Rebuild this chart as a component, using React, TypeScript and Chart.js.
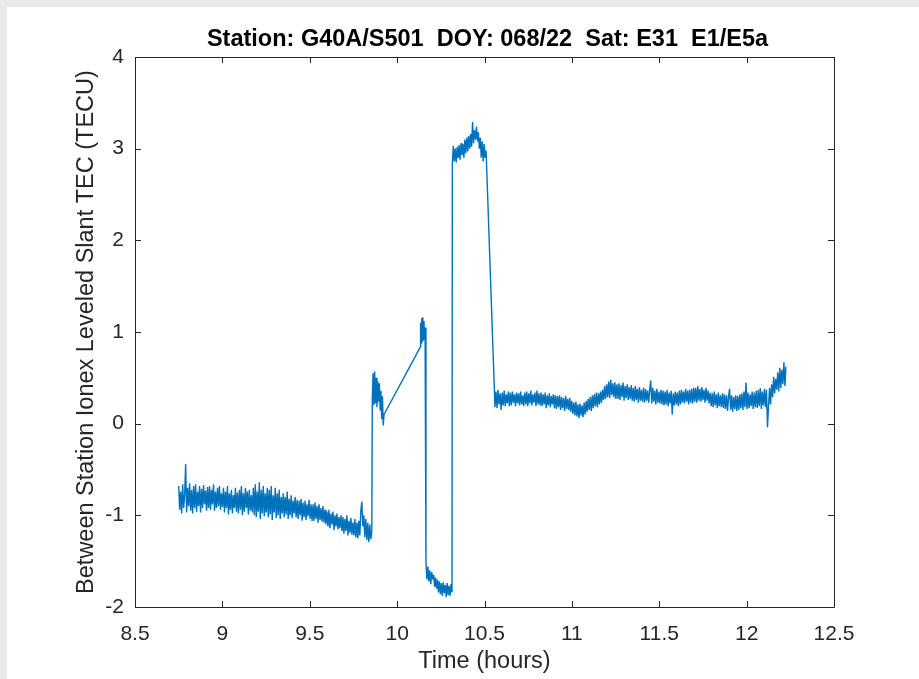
import React, { useEffect, useRef } from "react";
import { Chart, registerables } from "chart.js";

Chart.register(...registerables);

const TITLE = "Station: G40A/S501  DOY: 068/22  Sat: E31  E1/E5a";
const X_LABEL = "Time (hours)";
const Y_LABEL = "Between Station Ionex Leveled Slant TEC (TECU)";
const X_MIN = 8.5, X_MAX = 12.5, X_STEP = 0.5;
const Y_MIN = -2, Y_MAX = 4, Y_STEP = 1;

// Each segment: [startTime, endTime]; its values are evenly spaced in between
const segA_time = [8.75, 9.855];
const segA = [
  -0.68,-0.94,-0.74,-0.98,-0.66,-0.92,-0.78,-0.44,-0.97,-0.7,-0.9,-0.65,-0.95,-0.72,-0.98,
  -0.68,-0.92,-0.66,-0.96,-0.74,-0.9,-0.68,-0.97,-0.71,-0.92,-0.67,-0.88,-0.73,-0.95,-0.69,
  -0.92,-0.68,-0.94,-0.72,-0.88,-0.66,-0.95,-0.74,-0.92,-0.7,-0.9,-0.68,-0.94,-0.76,-0.91,
  -0.7,-0.97,-0.74,-0.92,-0.68,-0.99,-0.76,-0.94,-0.72,-0.98,-0.78,-0.92,-0.7,-0.96,-0.75,
  -0.98,-0.72,-0.94,-0.68,-1.0,-0.76,-0.96,-0.7,-0.92,-0.74,-0.99,-0.72,-0.95,-0.78,-0.97,
  -0.7,-1.0,-0.66,-1.02,-0.74,-0.96,-0.64,-1.04,-0.72,-0.98,-0.68,-1.01,-0.76,-0.97,-0.7,
  -1.02,-0.72,-0.99,-0.68,-1.05,-0.78,-0.97,-0.7,-1.03,-0.76,-1.0,-0.72,-1.04,-0.8,-0.98,
  -0.76,-1.02,-0.8,-0.99,-0.74,-1.04,-0.82,-1.0,-0.78,-1.03,-0.84,-0.98,-0.8,-1.02,-0.83,
  -1.04,-0.84,-1.0,-0.82,-1.06,-0.86,-1.02,-0.84,-1.05,-0.88,-1.01,-0.83,-1.04,-0.88,-1.06,
  -0.88,-1.06,-0.86,-1.04,-0.9,-1.08,-0.88,-1.05,-0.92,-1.07,-0.9,-1.08,-0.94,-1.1,-0.96,
  -1.12,-0.94,-1.14,-0.98,-1.1,-0.96,-1.16,-1.0,-1.12,-0.98,-1.15,-1.02,-1.14,-1.0,-1.17,
  -1.02,-1.2,-1.04,-1.17,-1.0,-1.22,-1.06,-1.19,-1.03,-1.21,-1.08,-1.22,-1.04,-1.24,-1.08,
  -1.25,-1.06,-1.22,-0.95,-0.85,-1.12,-1.0,-1.24,-1.04,-1.27,-1.08,-1.29,-1.1,-1.26,-1.18,
];
const segB_time = [9.858, 9.925];
const segB = [0.28,0.55,0.2,0.57,0.22,0.5,0.18,0.46,0.24,0.44,0.15,0.36,0.05,0.3,-0.02,0.1];
const segC_time = [10.131, 10.16];
const segC = [0.83,1.1,0.88,1.15,0.9,1.16,0.92,1.12,0.95,1.05];
const segD_time = [10.165, 10.314];
const segD = [
  -1.52,-1.7,-1.56,-1.72,-1.6,-1.75,-1.62,-1.7,-1.65,-1.78,-1.68,-1.8,-1.7,-1.84,
  -1.72,-1.86,-1.74,-1.88,-1.73,-1.85,-1.76,-1.89,-1.74,-1.87,-1.77,-1.88,-1.75,-1.84,
];
const segE_time = [10.316, 10.509];
const segE = [
  2.84,3.03,2.86,3.0,2.85,3.02,2.9,3.04,2.88,3.06,2.93,3.05,2.9,3.1,2.95,3.12,2.97,3.14,
  3.0,3.16,3.02,3.29,3.06,3.2,3.1,3.24,3.08,3.18,3.0,3.12,2.9,3.08,2.86,3.05,2.9,2.98,
];
const segF_time = [10.56, 12.225];
const segF = [
  0.18,0.35,0.17,0.37,0.21,0.33,0.15,0.34,0.2,0.36,0.19,0.32,0.22,0.35,0.19,
  0.34,0.2,0.35,0.23,0.32,0.19,0.34,0.22,0.33,0.2,0.35,0.21,0.31,0.19,0.34,
  0.21,0.35,0.19,0.33,0.22,0.36,0.2,0.32,0.23,0.34,0.19,0.36,0.21,0.33,0.2,
  0.34,0.19,0.32,0.21,0.34,0.17,0.31,0.2,0.33,0.18,0.3,0.21,0.32,0.17,0.31,
  0.16,0.3,0.18,0.31,0.15,0.29,0.17,0.28,0.14,0.3,0.16,0.27,0.15,0.28,0.13,
  0.25,0.11,0.23,0.09,0.24,0.08,0.21,0.06,0.22,0.09,0.2,0.07,0.23,0.1,0.25,
  0.13,0.27,0.15,0.29,0.14,0.31,0.17,0.32,0.19,0.34,0.18,0.33,0.21,0.35,0.23,
  0.37,0.26,0.41,0.27,0.43,0.29,0.46,0.28,0.48,0.31,0.44,0.29,0.45,0.27,0.43,
  0.27,0.44,0.26,0.42,0.29,0.45,0.25,0.41,0.28,0.43,0.26,0.4,0.27,0.42,0.25,
  0.39,0.24,0.41,0.26,0.38,0.23,0.4,0.25,0.37,0.24,0.39,0.23,0.38,0.25,0.36,
  0.23,0.37,0.47,0.22,0.39,0.24,0.36,0.21,0.38,0.23,0.35,0.22,0.37,0.21,0.36,
  0.2,0.35,0.21,0.37,0.19,0.34,0.22,0.36,0.1,0.33,0.2,0.35,0.21,0.34,0.19,
  0.36,0.21,0.37,0.23,0.35,0.22,0.38,0.24,0.36,0.21,0.37,0.23,0.38,0.22,0.39,
  0.24,0.39,0.23,0.41,0.25,0.38,0.24,0.4,0.26,0.37,0.23,0.39,0.25,0.36,0.22,
  0.34,0.19,0.33,0.18,0.35,0.2,0.32,0.17,0.34,0.19,0.31,0.18,0.33,0.17,0.32,
  0.16,0.31,0.14,0.3,0.38,0.15,0.31,0.13,0.29,0.16,0.31,0.14,0.3,0.15,0.32,
  0.17,0.33,0.15,0.35,0.18,0.45,0.16,0.34,0.17,0.32,0.19,0.35,0.16,0.34,0.18,
  0.36,0.17,0.37,0.19,0.39,0.16,0.35,0.2,0.38,0.18,0.37,-0.04,0.19,0.39,0.21,
  0.43,0.29,0.51,0.33,0.49,0.37,0.56,0.35,0.61,0.39,0.59,0.43,0.67,0.41,0.62,
];

const SEGMENTS: [number[], number[]][] = [
  [segA_time, segA], [segB_time, segB], [segC_time, segC],
  [segD_time, segD], [segE_time, segE], [segF_time, segF],
];

function buildPoints() {
  const pts: { x: number; y: number }[] = [];
  for (const [tt, vals] of SEGMENTS) {
    const n = vals.length;
    for (let i = 0; i < n; i++) {
      const x = tt[0] + ((tt[1] - tt[0]) * i) / (n - 1);
      pts.push({ x, y: vals[i] });
    }
  }
  return pts;
}

const AXIS_COLOR = "#262626";
const FONT = "'Liberation Sans', Arial, Helvetica, sans-serif";
const fmt = (v: any) => String(Number(Number(v).toFixed(2)));

const matlabAxes = {
  id: "matlabAxes",
  afterDraw(chart: any) {
    const { ctx, chartArea: a, scales } = chart;
    const xs = scales.x, ys = scales.y;
    ctx.save();
    ctx.strokeStyle = AXIS_COLOR;
    ctx.lineWidth = 1;
    ctx.beginPath();
    ctx.rect(Math.round(a.left) + 0.5, Math.round(a.top) + 0.5, Math.round(a.right - a.left), Math.round(a.bottom - a.top));
    ctx.stroke();
    const TL = 6;
    ctx.beginPath();
    for (const t of xs.ticks) {
      const px = Math.round(xs.getPixelForValue(t.value)) + 0.5;
      ctx.moveTo(px, a.bottom); ctx.lineTo(px, a.bottom - TL);
      ctx.moveTo(px, a.top); ctx.lineTo(px, a.top + TL);
    }
    for (const t of ys.ticks) {
      const py = Math.round(ys.getPixelForValue(t.value)) + 0.5;
      ctx.moveTo(a.left, py); ctx.lineTo(a.left + TL, py);
      ctx.moveTo(a.right, py); ctx.lineTo(a.right - TL, py);
    }
    ctx.stroke();
    const cx = (a.left + a.right) / 2;
    ctx.fillStyle = "#000000";
    ctx.textAlign = "center";
    ctx.textBaseline = "middle";
    ctx.font = `bold 23.5px ${FONT}`;
    ctx.fillText(TITLE, cx + 3, 40);
    ctx.fillStyle = AXIS_COLOR;
    ctx.font = `23.5px ${FONT}`;
    ctx.fillText(X_LABEL, cx, 662);
    ctx.translate(87, (a.top + a.bottom) / 2);
    ctx.rotate(-Math.PI / 2);
    ctx.fillText(Y_LABEL, 0, 0);
    ctx.restore();
  },
};

export default function App() {
  const ref = useRef<HTMLCanvasElement>(null);
  useEffect(() => {
    if (!ref.current) return;
    const chart = new Chart(ref.current, {
      type: "line",
      data: {
        datasets: [
          {
            data: buildPoints(),
            borderColor: "#0072BD",
            borderWidth: 1.4,
            borderJoinStyle: "bevel",
            pointRadius: 0,
            tension: 0,
            fill: false,
          },
        ],
      },
      options: {
        animation: false,
        responsive: false,
        maintainAspectRatio: false,
        layout: { padding: { left: 0, right: 85, top: 57, bottom: 0 } },
        plugins: { legend: { display: false }, tooltip: { enabled: false }, title: { display: false } },
        scales: {
          x: {
            type: "linear",
            min: X_MIN,
            max: X_MAX,
            grid: { display: false, drawTicks: false },
            border: { display: false },
            ticks: { stepSize: X_STEP, padding: 15, color: AXIS_COLOR, font: { family: FONT, size: 21 }, maxRotation: 0, autoSkip: false, callback: fmt },
            afterFit: (s: any) => { s.height = 72; },
          },
          y: {
            type: "linear",
            min: Y_MIN,
            max: Y_MAX,
            grid: { display: false, drawTicks: false },
            border: { display: false },
            ticks: { stepSize: Y_STEP, padding: 11, color: AXIS_COLOR, font: { family: FONT, size: 21 }, callback: fmt },
            afterFit: (s: any) => { s.width = 135; },
          },
        },
      },
      plugins: [matlabAxes],
    });
    return () => chart.destroy();
  }, []);
  return (
    <div style={{ position: "fixed", left: 0, top: 0, width: 919, height: 679, background: "#e8e9e9" }}>
      <div style={{ position: "absolute", left: 7, top: 7, right: 0, bottom: 0, background: "#ffffff" }} />
      <canvas ref={ref} width={919} height={679} style={{ position: "absolute", left: 0, top: 0, width: 919, height: 679 }} />
    </div>
  );
}
